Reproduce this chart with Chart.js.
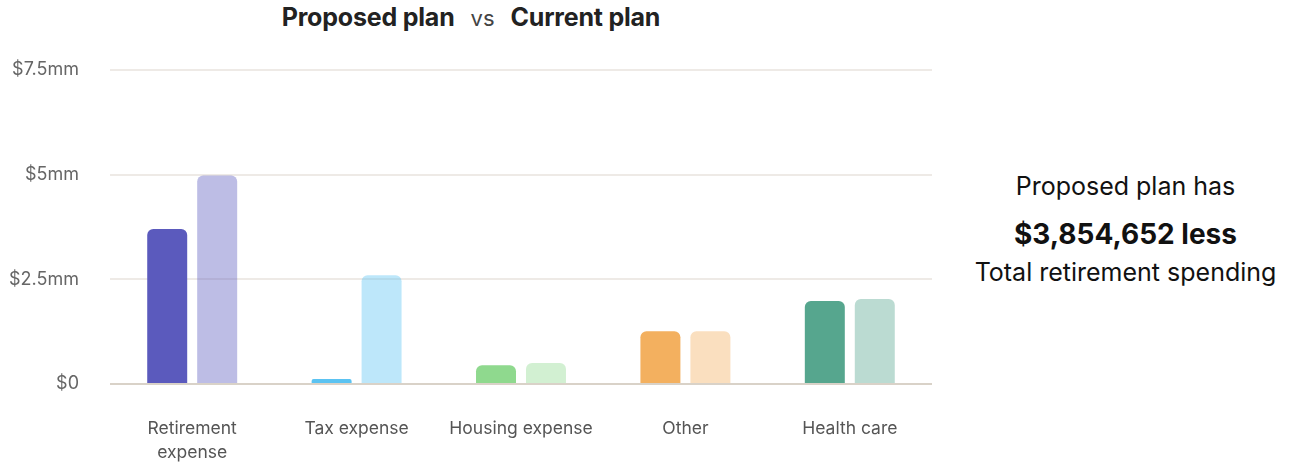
<!DOCTYPE html>
<html>
<head>
<meta charset="utf-8">
<script src="https://cdn.jsdelivr.net/npm/chart.js@4"></script>
<style>
  body { margin: 0; background: #fff; font-family: Inter, "Noto Sans", sans-serif; }
  #wrap { position: relative; width: 1291px; height: 463px; overflow: hidden; }
  #chartBox { position: absolute; left: 0; top: 0; width: 940px; height: 463px; }
  #title { position: absolute; left: 0; width: 942px; top: 2px; text-align: center; font-size: 25px; color: #222; white-space: nowrap; }
  #title b { font-weight: 700; letter-spacing: -0.2px; }
  #title .vs { font-weight: 400; color: #444; margin: 0 16px; font-size: 22px; }
  #summary { position: absolute; left: 960px; width: 331px; top: 170px; text-align: center; color: #111; }
  #summary .l1 { font-size: 25px; line-height: 32px; }
  #summary .l2 { font-size: 28px; font-weight: 700; line-height: 40px; margin-top: 12px; }
  #summary .l3 { font-size: 25px; line-height: 30px; margin-top: 3px; }
</style>
</head>
<body>
<div id="wrap">
  <div id="title"><b>Proposed plan</b><span class="vs">vs</span><b>Current plan</b></div>
  <div id="chartBox"><canvas id="spendChart"></canvas></div>
  <div id="summary">
    <div class="l1">Proposed plan has</div>
    <div class="l2">$3,854,652 less</div>
    <div class="l3">Total retirement spending</div>
  </div>
</div>
<script>
// spending by category, in dollars
const categories = [['Retirement', 'expense'], 'Tax expense', 'Housing expense', 'Other', 'Health care']
const proposedPlan = [3700000, 120000, 450000, 1260000, 1980000]
const currentPlan = [4980000, 2600000, 500000, 1260000, 2030000]
const yTicks = [0, 2500000, 5000000, 7500000]
const yTickLabels = ['$0', '$2.5mm', '$5mm', '$7.5mm']

// one colour per category, current plan uses the faded version
const categoryColors = ['91, 90, 189', '91, 195, 242', '143, 217, 142', '243, 176, 95', '86, 166, 142']
const solid = categoryColors.map(c => `rgb(${c})`)
const faded = categoryColors.map(c => `rgba(${c}, 0.4)`)

const dataChart = {
    labels: categories,
    datasets: [{
        label: 'Proposed plan',
        data: proposedPlan,
        backgroundColor: solid,
        borderRadius: { topLeft: 6, topRight: 6 },
        borderSkipped: 'bottom',
        categoryPercentage: 0.608,
        barPercentage: 0.8
    }, {
        label: 'Current plan',
        data: currentPlan,
        backgroundColor: faded,
        borderRadius: { topLeft: 6, topRight: 6 },
        borderSkipped: 'bottom',
        categoryPercentage: 0.608,
        barPercentage: 0.8
    }]
}

const config = {
    type: 'bar',
    data: dataChart,
    options: {
        responsive: true,
        maintainAspectRatio: false,
        animation: false,
        layout: { padding: { top: 70, right: 8, bottom: 0, left: 0 } },
        plugins: {
            legend: { display: false },
            tooltip: { enabled: false }
        },
        scales: {
            x: {
                grid: { display: false, drawTicks: false },
                border: { display: false },
                ticks: {
                    color: '#555',
                    padding: 33,
                    maxRotation: 0,
                    autoSkip: false,
                    font: { family: 'Inter', size: 17.5, lineHeight: 1.37 }
                },
                afterFit: (scale) => { scale.height = 79 }
            },
            y: {
                min: 0,
                max: 7500000,
                afterBuildTicks: (scale) => { scale.ticks = yTicks.map(v => ({ value: v })) },
                grid: {
                    drawTicks: false,
                    lineWidth: 2,
                    color: (ctx) => ctx.tick && ctx.tick.value === 0 ? '#d9d2c8' : '#eeeae6'
                },
                border: { display: false },
                ticks: {
                    color: '#666',
                    padding: 31,
                    font: { family: 'Inter', size: 18 },
                    callback: (value) => yTickLabels[yTicks.indexOf(value)]
                },
                afterFit: (scale) => { scale.width = 110 }
            }
        }
    }
}

const myChart = new Chart(document.getElementById('spendChart'), config)
</script>
</body>
</html>
